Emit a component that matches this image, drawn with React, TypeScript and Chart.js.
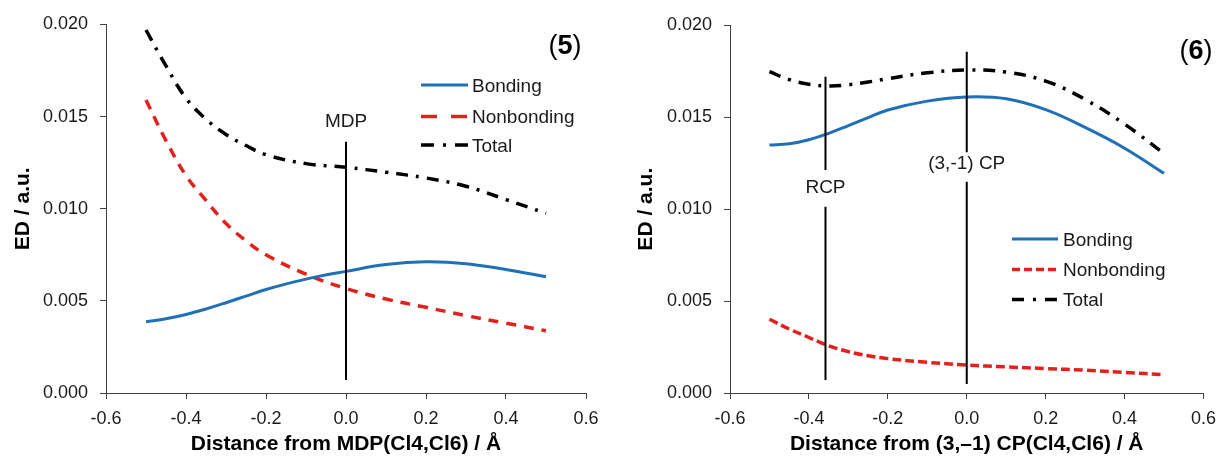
import React, { useEffect, useRef } from "react";
import { Chart, registerables } from "chart.js";

Chart.register(...registerables);

// ---------- data ----------
const xValues = [-0.5, -0.45, -0.4, -0.35, -0.3, -0.25, -0.2, -0.1, 0, 0.1, 0.2, 0.3, 0.4, 0.5];
const seriesLabels = ["Bonding", "Nonbonding", "Total"];

// panel (5)
const bonding5 = [0.00387, 0.00403, 0.00426, 0.00456, 0.0049, 0.00526, 0.00562, 0.00618, 0.0066, 0.00697, 0.00712, 0.00702, 0.0067, 0.00631];
const nonbonding5 = [0.0159, 0.0137, 0.0118, 0.01045, 0.0092, 0.00826, 0.0075, 0.00645, 0.00567, 0.0051, 0.00465, 0.0042, 0.00379, 0.00338];
const total5 = [0.0197, 0.01775, 0.016, 0.01486, 0.01403, 0.01343, 0.01293, 0.01245, 0.01225, 0.01198, 0.01167, 0.01122, 0.0105, 0.00975];

// panel (6)
const bonding6 = [0.01349, 0.01356, 0.01378, 0.01413, 0.01455, 0.01498, 0.0154, 0.01588, 0.01611, 0.01601, 0.01542, 0.01445, 0.01332, 0.01195];
const nonbonding6 = [0.00401, 0.00348, 0.00302, 0.00257, 0.00225, 0.00203, 0.00187, 0.00167, 0.00152, 0.00142, 0.00133, 0.00124, 0.00112, 0.00099];
const total6 = [0.01748, 0.01705, 0.0168, 0.01671, 0.01677, 0.01692, 0.0171, 0.01742, 0.01757, 0.01746, 0.01697, 0.01597, 0.01463, 0.01303];

// vertical marker lines: x position and y segments (pairs)
const mdpX = 0;
const mdpSegments = [[0.00071, 0.01364]];
const rcpX = -0.358;
const rcpSegments = [[0.00071, 0.01014], [0.01213, 0.01721]];
const cpX = 0;
const cpSegments = [[0.00049, 0.0115], [0.0131, 0.01857]];

// marker labels
const markerLabels5 = [{ text: "MDP", x: 0, y: 0.01472 }];
const markerLabels6 = [
  { text: "RCP", x: -0.358, y: 0.01114 },
  { text: "(3,-1) CP", x: 0, y: 0.01246 },
];

const yTickStep = 0.005;
const xTickStep = 0.2;

// ---------- styling ----------
const FONT = "'Liberation Sans', Arial, sans-serif";
const BLUE = "#1f70b6";
const RED = "#e3201c";
const BLACK = "#000000";
const AXIS = "#404040";
const TEXT = "#1a1a1a";

type PanelCfg = {
  width: number;
  number: string;
  xTitle: string;
  series: number[][];
  dashes: number[][];
  markers: { x: number; segments: number[][] }[];
  labels: { text: string; x: number; y: number }[];
  yAxisWidth: number;
  yTitlePad: number;
  padTop: number;
  padRight: number;
  legend: { x1: number; x2: number; tx: number; rows: number[]; dashes: number[][] };
  panelPos: { x: number; y: number };
};

const panel5: PanelCfg = {
  width: 612,
  number: "5",
  xTitle: "Distance from MDP(Cl4,Cl6) / Å",
  series: [bonding5, nonbonding5, total5],
  dashes: [[], [10, 8], [12, 8, 3, 8]],
  markers: [{ x: mdpX, segments: mdpSegments }],
  labels: markerLabels5,
  yAxisWidth: 106,
  yTitlePad: 11,
  padTop: 24.5,
  padRight: 26,
  legend: { x1: 421, x2: 468, tx: 472, rows: [85, 116.5, 145], dashes: [[], [16, 14], [13, 9, 3, 9]] },
  panelPos: { x: 565, y: 47 },
};

const panel6: PanelCfg = {
  width: 613,
  number: "6",
  xTitle: "Distance from (3,\u20131) CP(Cl4,Cl6) / Å",
  series: [bonding6, nonbonding6, total6],
  dashes: [[], [9, 4], [12, 8, 3, 8]],
  markers: [
    { x: rcpX, segments: rcpSegments },
    { x: cpX, segments: cpSegments },
  ],
  labels: markerLabels6,
  yAxisWidth: 118,
  yTitlePad: 22,
  padTop: 25.4,
  padRight: 15,
  legend: { x1: 400, x2: 446, tx: 451, rows: [239, 269.5, 299.5], dashes: [[], [8, 4], [12, 9, 3, 9]] },
  panelPos: { x: 584, y: 52 },
};

const colors = [BLUE, RED, BLACK];

function buildConfig(p: PanelCfg): any {
  const curveSets = p.series.map((arr, i) => ({
    label: seriesLabels[i],
    data: xValues.map((x, j) => ({ x, y: arr[j] })),
    borderColor: colors[i],
    backgroundColor: colors[i],
    borderWidth: i === 0 ? 3 : 3.5,
    borderDash: p.dashes[i],
    pointRadius: 0,
    tension: 0.4,
    fill: false,
    order: 2,
  }));
  const markerSets = p.markers.map((m, k) => {
    const pts: { x: number; y: number | null }[] = [];
    m.segments.forEach((seg, s) => {
      if (s > 0) pts.push({ x: m.x, y: null });
      pts.push({ x: m.x, y: seg[0] });
      pts.push({ x: m.x, y: seg[1] });
    });
    return {
      label: "marker" + k,
      data: pts,
      borderColor: BLACK,
      borderWidth: 2,
      pointRadius: 0,
      tension: 0,
      spanGaps: false,
      fill: false,
      order: 1,
    };
  });

  const overlay = {
    id: "overlay" + p.number,
    afterDatasetsDraw(chart: any) {
      const ctx = chart.ctx;
      const xs = chart.scales.x;
      const ys = chart.scales.y;
      ctx.save();
      // marker labels
      ctx.font = `19px ${FONT}`;
      ctx.fillStyle = TEXT;
      ctx.textAlign = "center";
      ctx.textBaseline = "middle";
      p.labels.forEach((l) => {
        ctx.fillText(l.text, xs.getPixelForValue(l.x), ys.getPixelForValue(l.y));
      });
      // legend
      const lg = p.legend;
      seriesLabels.forEach((name, i) => {
        const y = lg.rows[i];
        ctx.beginPath();
        ctx.setLineDash(lg.dashes[i]);
        ctx.lineWidth = i === 0 ? 3 : 3.5;
        ctx.strokeStyle = colors[i];
        ctx.moveTo(lg.x1, y);
        ctx.lineTo(lg.x2, y);
        ctx.stroke();
        ctx.setLineDash([]);
        ctx.font = `19px ${FONT}`;
        ctx.fillStyle = TEXT;
        ctx.textAlign = "left";
        ctx.textBaseline = "middle";
        ctx.fillText(name, lg.tx, y + 1.5);
      });
      // panel number "(n)" with bold number
      const reg = `27px ${FONT}`;
      const bold = `bold 27px ${FONT}`;
      ctx.font = reg;
      const wp = ctx.measureText("(").width;
      const wc = ctx.measureText(")").width;
      ctx.font = bold;
      const wn = ctx.measureText(p.number).width;
      let x = p.panelPos.x - (wp + wn + wc) / 2;
      ctx.textAlign = "left";
      ctx.textBaseline = "middle";
      ctx.fillStyle = BLACK;
      ctx.font = reg;
      ctx.fillText("(", x, p.panelPos.y);
      x += wp;
      ctx.font = bold;
      ctx.fillText(p.number, x, p.panelPos.y);
      x += wn;
      ctx.font = reg;
      ctx.fillText(")", x, p.panelPos.y);
      ctx.restore();
    },
  };

  const tickFont = { family: FONT, size: 18 };
  const titleFont = { family: FONT, size: 21, weight: "bold" };

  return {
    type: "line",
    data: { datasets: [...curveSets, ...markerSets] },
    options: {
      responsive: false,
      animation: false,
      events: [],
      layout: { padding: { top: p.padTop, right: p.padRight, bottom: 0, left: 0 } },
      plugins: { legend: { display: false }, tooltip: { enabled: false } },
      scales: {
        x: {
          type: "linear",
          min: -0.6,
          max: 0.6,
          ticks: {
            stepSize: xTickStep,
            maxRotation: 0,
            autoSkip: false,
            padding: 9,
            color: TEXT,
            font: tickFont,
            callback: (v: number) => {
              const n = Math.round(v * 10) / 10;
              return (n === 0 ? 0 : n).toFixed(1);
            },
          },
          grid: { drawOnChartArea: false, drawTicks: true, tickLength: 6, color: AXIS, lineWidth: 1 },
          border: { color: AXIS, width: 1 },
          title: { display: true, text: p.xTitle, color: BLACK, font: titleFont, padding: { top: 0, bottom: 0 } },
          afterFit: (s: any) => {
            s.height = 64;
          },
        },
        y: {
          min: 0,
          max: 0.02,
          ticks: {
            stepSize: yTickStep,
            padding: 12,
            color: TEXT,
            font: tickFont,
            callback: (v: number) => Number(v).toFixed(3),
          },
          grid: { drawOnChartArea: false, drawTicks: true, tickLength: 6, color: AXIS, lineWidth: 1 },
          border: { color: AXIS, width: 1 },
          title: { display: true, text: "ED / a.u.", color: BLACK, font: titleFont, padding: { top: p.yTitlePad, bottom: 0 } },
          afterFit: (s: any) => {
            s.width = p.yAxisWidth;
          },
        },
      },
    },
    plugins: [overlay],
  };
}

function Panel({ cfg }: { cfg: PanelCfg }) {
  const ref = useRef<HTMLCanvasElement | null>(null);
  useEffect(() => {
    if (!ref.current) return;
    const chart = new Chart(ref.current, buildConfig(cfg));
    return () => chart.destroy();
  }, [cfg]);
  return (
    <canvas
      ref={ref}
      width={cfg.width}
      height={457}
      style={{ display: "block", width: cfg.width, height: 457 }}
    />
  );
}

export default function App() {
  return (
    <div
      style={{
        position: "absolute",
        left: 0,
        top: 0,
        width: 1225,
        height: 457,
        display: "flex",
        background: "#ffffff",
      }}
    >
      <Panel cfg={panel5} />
      <Panel cfg={panel6} />
    </div>
  );
}
